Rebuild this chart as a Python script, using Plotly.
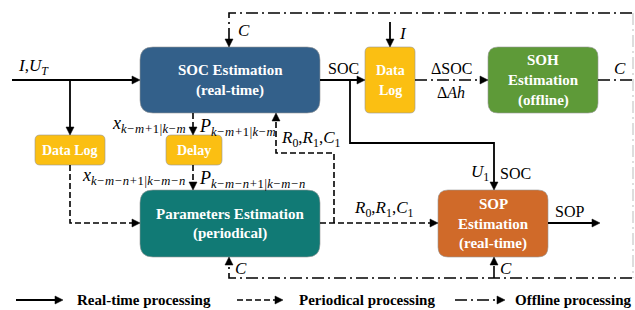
import plotly.graph_objects as go

# ---- content (text) ----
box_names = ["soc", "param", "soh", "sop", "log_left", "delay", "log_right"]
box_labels = [
    ["SOC Estimation", "(real-time)"],
    ["Parameters Estimation", "(periodical)"],
    ["SOH", "Estimation", "(offline)"],
    ["SOP", "Estimation", "(real-time)"],
    ["Data Log"],
    ["Delay"],
    ["Data", "Log"],
]
legend_labels = ["Real-time processing", "Periodical processing", "Offline processing"]
edge_labels = [
    "<i>I</i>,<i>U</i><sub><i>T</i></sub>",
    "<i>C</i>", "SOC", "<i>I</i>", "ΔSOC", "Δ<i>Ah</i>", "<i>C</i>",
    "<i>x</i><sub><i>k−m+</i>1<i>|k−m</i></sub>",
    "<i>P</i><sub><i>k−m+</i>1<i>|k−m</i></sub>",
    "<i>x</i><sub><i>k−m−n+</i>1<i>|k−m−n</i></sub>",
    "<i>P</i><sub><i>k−m−n+</i>1<i>|k−m−n</i></sub>",
    "<i>R</i><sub>0</sub>,<i>R</i><sub>1</sub>,<i>C</i><sub>1</sub>",
    "<i>R</i><sub>0</sub>,<i>R</i><sub>1</sub>,<i>C</i><sub>1</sub>",
    "<i>U</i><sub>1</sub>", "SOC", "SOP", "<i>C</i>", "<i>C</i>",
]

# ---- layout geometry (pixels, y downward) ----
box_geom = {
    "soc": (140, 47, 320, 113, 13),
    "param": (140, 190, 320, 257, 13),
    "soh": (488, 47, 598, 113, 10),
    "sop": (438, 190, 548, 257, 10),
    "log_left": (35, 135, 105, 165, 5),
    "delay": (166, 135, 222, 165, 5),
    "log_right": (365, 47, 415, 113, 5),
}
box_colors = {
    "soc": "#33608A", "param": "#117A75", "soh": "#5E9A38", "sop": "#D06A29",
    "log_left": "#FBBF12", "delay": "#FBBF12", "log_right": "#FBBF12",
}
label_pos = [
    (16, 67, "left"), (236, 30, "left"), (326, 68, "left"), (397, 33, "left"),
    (451, 68, "center"), (451, 92, "center"), (612, 68, "left"),
    (188, 124, "right"), (197, 127, "left"),
    (187, 176, "right"), (197, 179, "left"),
    (279, 139, "left"), (352, 209, "left"),
    (469, 173, "left"), (498, 173, "left"), (553, 211, "left"),
    (498, 268, "left"), (233, 268, "left"),
]
label_sizes = [17, 17, 16, 17, 16, 16, 17, 18, 18, 18, 18, 17, 17, 17, 16, 16, 17, 17]

SOLID = "solid"
DASH = "6px,3px"
DASHDOT = "12px,4px,2px,4px"

# polylines: (points, dash, arrow at end direction or None)
lines = [
    ([(12, 80), (140, 80)], SOLID, "r"),
    ([(70, 80), (70, 135)], SOLID, "d"),
    ([(320, 80), (365, 80)], SOLID, "r"),
    ([(350, 80), (350, 143), (494, 143), (494, 190)], SOLID, "d"),
    ([(390, 22), (390, 47)], SOLID, "d"),
    ([(548, 223), (600, 223)], SOLID, "r"),
    ([(193, 113), (193, 135)], DASH, "d"),
    ([(193, 165), (193, 190)], DASH, "d"),
    ([(70, 165), (70, 223), (140, 223)], DASH, "r"),
    ([(320, 223), (438, 223)], DASH, "r"),
    ([(334, 223), (334, 153), (276, 153), (276, 113)], DASH, "u"),
    ([(415, 80), (488, 80)], DASHDOT, "r"),
    ([(598, 80), (634, 80)], DASHDOT, None),
    ([(632, 13), (229, 13), (229, 47)], DASHDOT, "d"),
    ([(632, 278), (229, 278), (229, 257)], DASHDOT, "u"),
    ([(494, 278), (494, 257)], DASHDOT, "u"),
    ([(16, 300), (63, 300)], SOLID, "r"),
    ([(237, 300), (283, 300)], DASH, "r"),
    ([(455, 300), (505, 300)], DASHDOT, "r"),
]
legend_text_x = [75, 297, 513]

FONT = "Liberation Serif, Times New Roman, serif"

fig = go.Figure()
shapes = []
annotations = []


def rounded(x0, y0, x1, y1, r):
    return (f"M {x0+r},{y0} L {x1-r},{y0} Q {x1},{y0} {x1},{y0+r} "
            f"L {x1},{y1-r} Q {x1},{y1} {x1-r},{y1} L {x0+r},{y1} "
            f"Q {x0},{y1} {x0},{y1-r} L {x0},{y0+r} Q {x0},{y0} {x0+r},{y0} Z")


for name, lab in zip(box_names, box_labels):
    x0, y0, x1, y1, r = box_geom[name]
    shapes.append(dict(type="path", path=rounded(x0, y0, x1, y1, r), xref="x", yref="y",
                       fillcolor=box_colors[name], line=dict(color="rgba(150,150,150,0.6)", width=1)))
    n = len(lab)
    cy = (y0 + y1) / 2
    step = 20 if n > 1 else 0
    small = name in ("log_left", "delay", "log_right")
    for i, t in enumerate(lab):
        yy = cy + (i - (n - 1) / 2) * step
        annotations.append(dict(x=(x0 + x1) / 2, y=yy, xref="x", yref="y", text=f"<b>{t}</b>",
                                showarrow=False, xanchor="center", yanchor="middle",
                                font=dict(family=FONT, size=14 if small else 15, color="white")))

AH_L, AH_W = 8, 4
for pts, dash, arr in lines:
    pts = list(pts)
    if arr:
        tx, ty = pts[-1]
        if arr == "r":
            tri = [(tx, ty), (tx - AH_L, ty - AH_W), (tx - AH_L, ty + AH_W)]
            pts[-1] = (tx - AH_L + 1, ty)
        elif arr == "d":
            tri = [(tx, ty), (tx - AH_W, ty - AH_L), (tx + AH_W, ty - AH_L)]
            pts[-1] = (tx, ty - AH_L + 1)
        else:
            tri = [(tx, ty), (tx - AH_W, ty + AH_L), (tx + AH_W, ty + AH_L)]
            pts[-1] = (tx, ty + AH_L - 1)
        shapes.append(dict(type="path", xref="x", yref="y",
                           path="M " + " L ".join(f"{a},{b}" for a, b in tri) + " Z",
                           fillcolor="black", line=dict(color="black", width=0.5)))
    shapes.append(dict(type="path", xref="x", yref="y",
                       path="M " + " L ".join(f"{a},{b}" for a, b in pts),
                       line=dict(color="black", width=1.8 if dash == SOLID else 1.6, dash=dash)))

# faint right border dash-dot
shapes.append(dict(type="line", xref="x", yref="y", x0=633, y0=13, x1=633, y1=278,
                   line=dict(color="#bbbbbb", width=1, dash=DASHDOT)))

for t, (x, y, anc), sz in zip(edge_labels, label_pos, label_sizes):
    annotations.append(dict(x=x, y=y, xref="x", yref="y", text=t, showarrow=False,
                            xanchor=anc, yanchor="middle",
                            font=dict(family=FONT, size=sz, color="black")))

for t, x in zip(legend_labels, legend_text_x):
    annotations.append(dict(x=x, y=300, xref="x", yref="y", text=f"<b>{t}</b>", showarrow=False,
                            xanchor="left", yanchor="middle",
                            font=dict(family=FONT, size=15, color="black")))

fig.update_layout(
    width=635, height=310, margin=dict(l=0, r=0, t=0, b=0),
    paper_bgcolor="white", plot_bgcolor="white",
    xaxis=dict(range=[0, 635], visible=False, fixedrange=True),
    yaxis=dict(range=[310, 0], visible=False, fixedrange=True),
    shapes=shapes, annotations=annotations, showlegend=False,
)
fig.write_html("out.html", config={"displayModeBar": False},
               post_script="document.body.style.margin='0';document.body.style.overflow='hidden';")
